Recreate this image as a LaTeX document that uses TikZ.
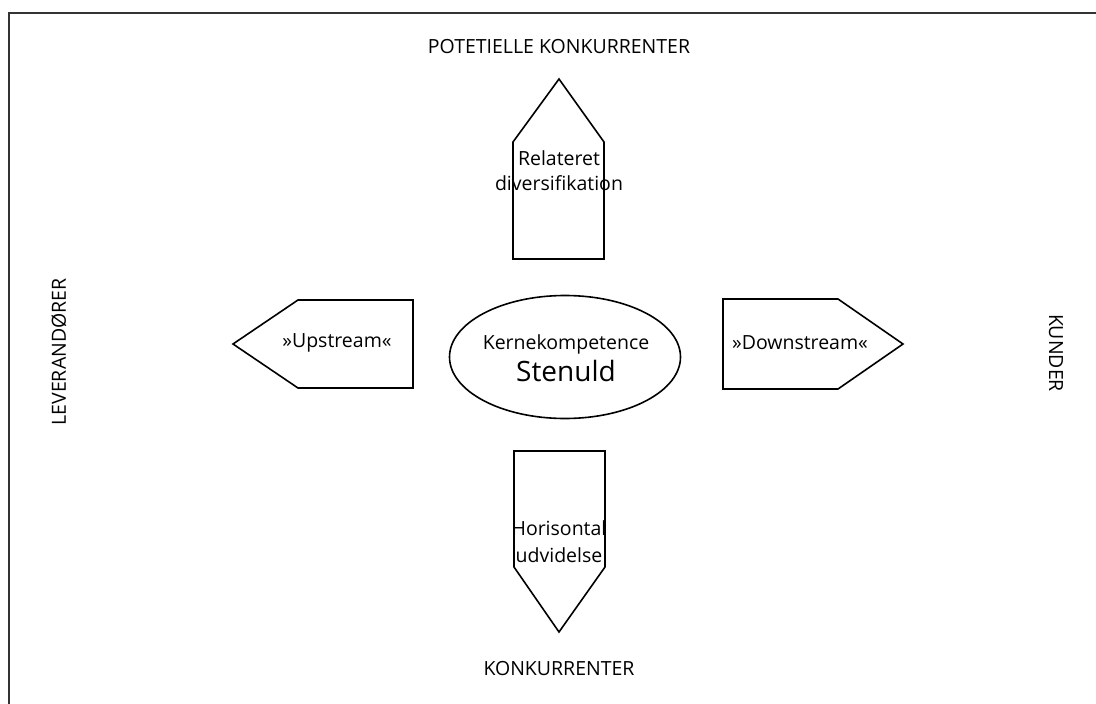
\documentclass[tikz,border=0pt]{standalone}
\usepackage{fontspec}
\setmainfont{Open Sans}
\usetikzlibrary{shapes.geometric}
\begin{document}
\begin{tikzpicture}[x=1pt,y=-1pt]
	\tikzstyle{every node}+=[inner sep=0pt]
	\tikzstyle{lbl}=[font=\fontsize{19.5}{23}\selectfont]
	\tikzstyle{shp}=[black, line width=1.6pt, line join=miter]
	\useasboundingbox (0,0) rectangle (1096,704);
	% frame
	\draw [black!80, line width=2.2pt] (9,704) -- (9,13) -- (1096,13);
	% outer labels
	\draw (559,47) node [lbl] (potkonk) {POTETIELLE KONKURRENTER};
	\draw (559,669) node [lbl] (konk) {KONKURRENTER};
	\draw (59,352) node [lbl, rotate=90] (lev) {LEVERANDØRER};
	\draw (1056,353) node [lbl, rotate=-90] (kunder) {KUNDER};
	% centre
	\node [shp, draw, ellipse, minimum width=231pt, minimum height=123pt] (kerne) at (565,357) {};
	\draw (566,344) node [lbl] (kk) {Kernekompetence};
	\draw (566,371) node [font=\fontsize{28}{32}\selectfont] (sten) {Stenuld};
	% up
	\draw [shp] (513,259) -- (513,142) -- (559,79) -- (604,142) -- (604,259) -- cycle;
	\draw (559,158) node [lbl] (rel) {Relateret};
	\draw (559,183) node [lbl] (div) {diversifikation};
	% down
	\draw [shp] (514,451) -- (605,451) -- (605,567) -- (559,632) -- (514,567) -- cycle;
	\draw (559,528) node [lbl] (hor) {Horisontal};
	\draw (559,555) node [lbl] (udv) {udvidelse};
	% left
	\draw [shp] (413,300) -- (298,300) -- (233,344) -- (298,388) -- (413,388) -- cycle;
	\draw (337,343) node [lbl] (up) {»Upstream«};
	% right
	\draw [shp] (723,299) -- (838,299) -- (903,344) -- (838,389) -- (723,389) -- cycle;
	\draw (800,343) node [lbl] (down) {»Downstream«};
\end{tikzpicture}
\end{document}
